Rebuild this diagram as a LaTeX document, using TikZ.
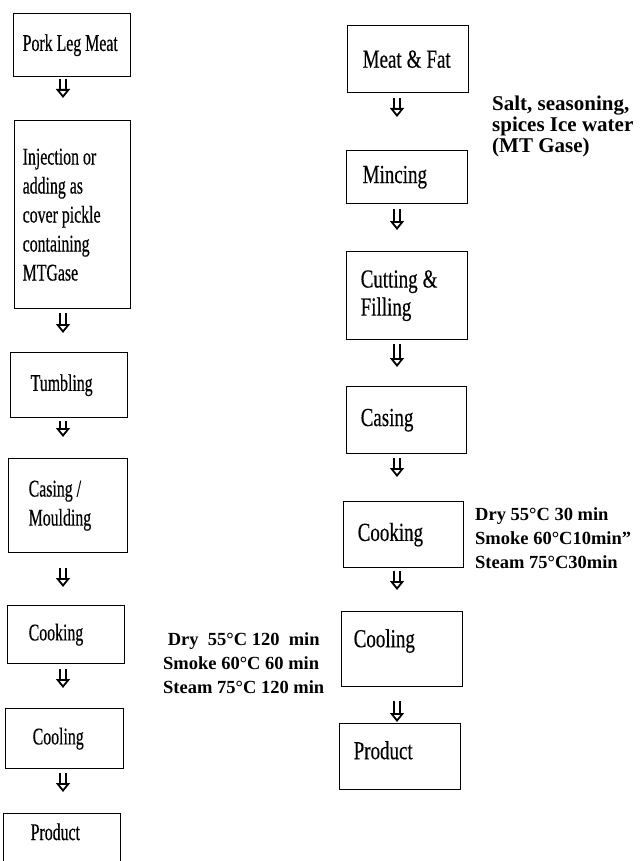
\documentclass[tikz,border=0pt]{standalone}
\usepackage{fontspec}
\setmainfont{Liberation Serif}
\newfontfamily\leftfont[FakeStretch=0.66, FakeBold=0.4]{Liberation Serif}
\newfontfamily\rightfont[FakeStretch=0.73, FakeBold=0.3]{Liberation Serif}
\newcommand{\narrowgap}[1]{\spaceskip=#1\relax}
\usetikzlibrary{arrows.meta}

\begin{document}
\begin{tikzpicture}[
  x=1pt, y=-1pt,
  box/.style={draw, line width=1.4pt, anchor=north west, align=left, inner ysep=0pt},
  lstep/.style={box, font=\leftfont\fontsize{24}{29}\selectfont, execute at begin node={\narrowgap{4pt}}},
  rstep/.style={box, font=\rightfont\fontsize{26}{28}\selectfont, execute at begin node={\narrowgap{5pt}}},
  note/.style={anchor=north west, align=left, inner sep=0pt, font=\bfseries\fontsize{18.5}{24}\selectfont},
  flow/.style={double, double distance=3.6pt, line width=1.8pt, -{Triangle[open, length=9pt, width=14pt]}}
]
\useasboundingbox (0,0) rectangle (641,861);
\coordinate (lx) at (63,0);
\coordinate (rx) at (397,0);
% ham line (left)
\node[lstep, inner xsep=9pt, text width=99pt, minimum height=63pt] (pork) at (13,13) {Pork Leg Meat};
\node[lstep, inner xsep=8pt, text width=100pt, minimum height=188pt] (inject) at (14,120)
  {Injection or\\adding as\\cover pickle\\containing\\MTGase};
\node[lstep, inner xsep=20pt, text width=77pt, minimum height=65pt] (tumble) at (10,352) {Tumbling};
\node[lstep, inner xsep=20pt, text width=79pt, minimum height=94pt] (mould) at (8,458) {Casing /\\Moulding};
\node[lstep, inner xsep=21pt, text width=75pt, minimum height=58pt] (lcook) at (7,605) {Cooking};
\node[lstep, inner xsep=27pt, text width=64pt, minimum height=60pt] (lcool) at (5,708) {Cooling};
\node[lstep, inner xsep=27pt, text width=63pt, minimum height=60pt, text depth=24pt] (lprod) at (3,813) {Product};
% sausage line (right)
\node[rstep, inner xsep=15pt, text width=91pt, minimum height=67pt] (meat) at (347,25) {Meat \& Fat};
\node[rstep, inner xsep=16pt, text width=89pt, minimum height=53pt] (mince) at (346,150) {Mincing};
\node[rstep, inner xsep=14pt, text width=93pt, minimum height=88pt] (cut) at (346,251) {Cutting \&\\Filling};
\node[rstep, inner xsep=14pt, text width=92pt, minimum height=67pt] (rcase) at (346,386) {Casing};
\node[rstep, inner xsep=14pt, text width=92pt, minimum height=66pt] (rcook) at (343,501) {Cooking};
\node[rstep, inner xsep=12pt, text width=97pt, minimum height=75pt, text depth=22pt] (rcool) at (341,611) {Cooling};
\node[rstep, inner xsep=14pt, text width=93pt, minimum height=66pt, text depth=13pt] (rprod) at (339,723) {Product};
% side notes
\node[note, font=\bfseries\fontsize{21}{21}\selectfont] (salt) at (492,96)
  {Salt, seasoning,\\spices Ice water\\(MT Gase)};
\node[note] (rnote) at (475,507) {Dry 55°C 30 min\\Smoke 60°C10min"\\Steam 75°C30min};
\node[note] (lnote) at (163,632) {~Dry~ 55°C 120~ min\\Smoke 60°C 60 min\\Steam 75°C 120 min};
% arrows
\draw[flow, shorten <=2pt, shorten >=22pt] (pork.south -| lx) -- (inject.north -| lx);
\draw[flow, shorten <=4pt, shorten >=19pt] (inject.south -| lx) -- (tumble.north -| lx);
\draw[flow, shorten <=3pt, shorten >=21pt] (tumble.south -| lx) -- (mould.north -| lx);
\draw[flow, shorten <=15pt, shorten >=18pt] (mould.south -| lx) -- (lcook.north -| lx);
\draw[flow, shorten <=5pt, shorten >=20pt] (lcook.south -| lx) -- (lcool.north -| lx);
\draw[flow, shorten <=4pt, shorten >=21pt] (lcool.south -| lx) -- (lprod.north -| lx);
\draw[flow, shorten <=5pt, shorten >=33pt] (meat.south -| rx) -- (mince.north -| rx);
\draw[flow, shorten <=5pt, shorten >=21pt] (mince.south -| rx) -- (cut.north -| rx);
\draw[flow, shorten <=4pt, shorten >=19pt] (cut.south -| rx) -- (rcase.north -| rx);
\draw[flow, shorten <=4pt, shorten >=24pt] (rcase.south -| rx) -- (rcook.north -| rx);
\draw[flow, shorten <=3pt, shorten >=21pt] (rcook.south -| rx) -- (rcool.north -| rx);
\draw[flow, shorten <=14pt, shorten >=1pt] (rcool.south -| rx) -- (rprod.north -| rx);
\end{tikzpicture}
\end{document}
